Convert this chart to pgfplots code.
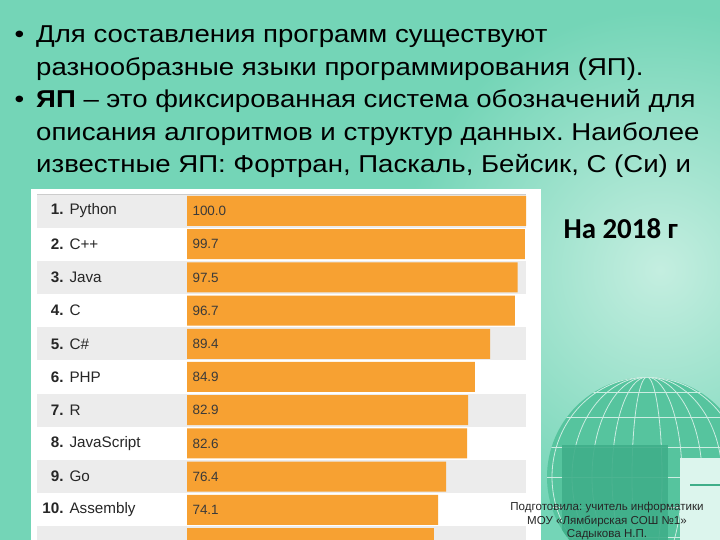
\documentclass[border=0pt]{standalone}
\usepackage{graphicx}
\usepackage{pgfplots}
\pgfplotsset{compat=1.18}
\usepackage{pgfplotstable}
\usepackage{fontspec}
\setmainfont{Liberation Sans}
\newfontfamily\calibri{Carlito}
\frenchspacing
\definecolor{bgbase}{HTML}{74D5B7}
\definecolor{bglight}{HTML}{C4EEE0}
\definecolor{barorange}{HTML}{F7A132}
\definecolor{stripe}{HTML}{ECECEC}
\definecolor{valtext}{HTML}{3A3A3A}
\definecolor{globe}{HTML}{56C49E}
\definecolor{globedark}{HTML}{3FAE89}
\newcommand\lbl[2]{\makebox[21bp][r]{\bfseries #1}\hspace{6bp}#2}
\newcommand\hd[1]{\scalebox{1.13}[1]{\fontsize{24.5}{28}\selectfont #1}}
\pgfplotstableread{
y v lab
1 100.0 100.0
2 99.7 99.7
3 97.5 97.5
4 96.7 96.7
5 89.4 89.4
6 84.9 84.9
7 82.9 82.9
8 82.6 82.6
9 76.4 76.4
10 74.1 74.1
11 72.8 {}
}\langdata
\begin{document}
\begin{tikzpicture}[x=1bp,y=1bp]
\path[use as bounding box, clip] (0,0) rectangle (720,540);
% background
\fill[bgbase] (0,0) rectangle (720,540);
\shade[inner color=bglight, outer color=bgbase] (660,270) circle (260);
% globe decoration
\begin{scope}
\clip (647,63) circle (100);
\fill[globe] (547,-40) rectangle (750,170);
\foreach \a in {15,35,55,75,95} {\draw[white!70!globe, line width=0.8bp] (647,63) ellipse (\a*1 and 100);}
\foreach \h in {-60,-30,0,30,60,85} {\draw[white!70!globe, line width=0.8bp] (540,63+\h) -- (760,63+\h);}
\fill[globedark, opacity=0.9] (562,0) rectangle (668,95);
\end{scope}
\fill[white!75!bgbase] (680,0) rectangle (720,82);
\draw[globedark, line width=2bp] (690,55) -- (720,55);
% header text
\node[anchor=base west, inner sep=0pt] at (36,497) {\hd{Для составления программ существуют}};
\node[anchor=base west, inner sep=0pt] at (36,464.5) {\hd{разнообразные языки программирования (ЯП).}};
\node[anchor=base west, inner sep=0pt] at (36,432) {\hd{\textbf{ЯП} – это фиксированная система обозначений для}};
\node[anchor=base west, inner sep=0pt] at (36,399.5) {\hd{описания алгоритмов и структур данных. Наиболее}};
\node[anchor=base west, inner sep=0pt] at (36,367) {\hd{известные ЯП: Фортран, Паскаль, Бейсик, С (Си) и}};
\node[anchor=base, inner sep=0pt] at (19.5,497) {\hd{•}};
\node[anchor=base, inner sep=0pt] at (19.5,432) {\hd{•}};
\node[anchor=west, font=\calibri\bfseries\fontsize{29}{32}\selectfont] at (560,311) {На 2018 г};
% chart image frame and stripes
\fill[white] (31,-5) rectangle (541,351);
\foreach \i in {1,3,5,7,9,11} {\fill[stripe] (37,{540-194.4-(\i-1)*33.2}) rectangle (526,{540-194.4-\i*33.2});}
\draw[gray!40, line width=0.6bp] (37,345.6) -- (526,345.6);
\begin{axis}[
  at={(37bp,-19.6bp)}, anchor=south west, scale only axis,
  width=489bp, height=365.2bp,
  xmin=-44.25, xmax=100, ymin=0.5, ymax=11.5, y dir=reverse,
  axis line style={draw=none}, tick style={draw=none},
  xtick=\empty, ytick={1,...,10},
  yticklabels={\lbl{1.}{Python},\lbl{2.}{C++},\lbl{3.}{Java},\lbl{4.}{C},\lbl{5.}{C\#},\lbl{6.}{PHP},\lbl{7.}{R},\lbl{8.}{JavaScript},\lbl{9.}{Go},\lbl{10.}{Assembly}},
  yticklabel style={anchor=west, xshift=2bp, font=\fontsize{15.3}{18}\selectfont, text=black!85},
]
\addplot[xbar, bar width=30bp, fill=barorange, draw=none] table[x=v, y=y] {\langdata};
\addplot[only marks, mark size=0pt, draw=none, nodes near coords, point meta=explicit symbolic,
  every node near coord/.style={anchor=west, xshift=2bp, font=\fontsize{13.5}{16}\selectfont, text=valtext}]
  table[x expr=0, y=y, meta=lab] {\langdata};
\end{axis}
% footer
\node[align=center, font=\fontsize{11.6}{13.5}\selectfont, text=black!85] at (607,19) {Подготовила: учитель информатики\\МОУ «Лямбирская СОШ №1»\\Садыкова Н.П.};
\end{tikzpicture}
\end{document}
